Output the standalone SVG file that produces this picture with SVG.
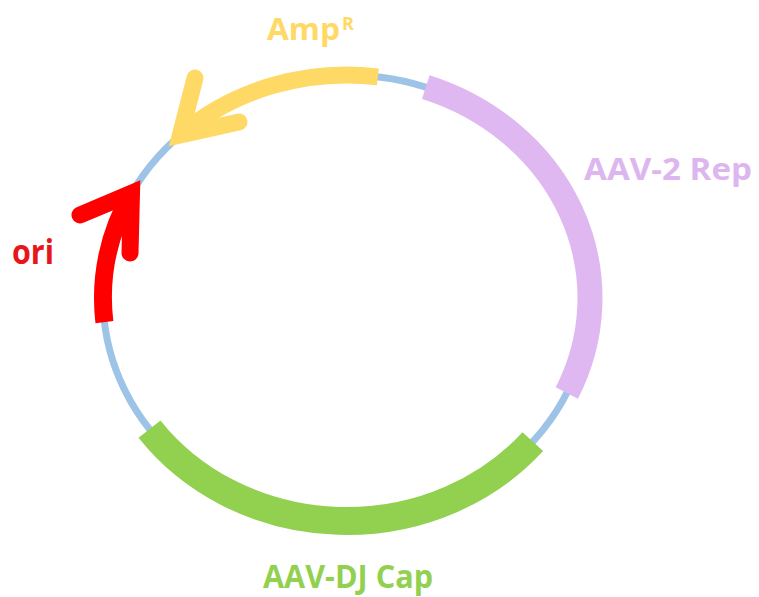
<svg xmlns="http://www.w3.org/2000/svg" width="759" height="597" viewBox="0 0 759 597">
  <style>
    .bb { fill: none; stroke: #9DC3E6; stroke-width: 7; }
    .seg { fill: none; stroke-linecap: butt; }
    .head { fill: none; stroke-linecap: round; stroke-linejoin: miter; stroke-miterlimit: 6; }
    .lbl { font-family: "Open Sans", "Liberation Sans", sans-serif; font-weight: bold; }
  </style>
  <rect width="759" height="597" fill="#FFFFFF"/>
  <g id="backbone">
    <ellipse class="bb" cx="346.5" cy="298" rx="243.5" ry="223"/>
  </g>
  <g id="rep">
    <path class="seg" stroke="#DFB8F1" stroke-width="25" d="M425.8,87.2 A243.5,223 0 0 1 566.8,393.0"/>
    <text class="lbl" x="584" y="180" font-size="31" fill="#DDB6EF" textLength="168" lengthAdjust="spacingAndGlyphs">AAV-2 Rep</text>
  </g>
  <g id="cap">
    <path class="seg" stroke="#92D050" stroke-width="28" d="M532.8,441.6 A243.5,223 0 0 1 149.5,429.1"/>
    <text class="lbl" x="263" y="588" font-size="32" fill="#92D050" textLength="170" lengthAdjust="spacingAndGlyphs">AAV-DJ Cap</text>
  </g>
  <g id="ampR">
    <path class="seg" stroke="#FFD966" stroke-width="17" d="M377.9,76.9 A243.5,223 0 0 0 180.4,134.9"/>
    <path class="head" stroke="#FFD966" stroke-width="17" d="M195,78 L180.4,134.9 L239,122"/>
    <text class="lbl" x="267" y="40" font-size="30" fill="#FFD966" textLength="73" lengthAdjust="spacingAndGlyphs">Amp</text>
    <text class="lbl" x="342" y="30" font-size="18" fill="#FFD966">R</text>
  </g>
  <g id="ori">
    <path class="seg" stroke="#FF0000" stroke-width="18" d="M104.4,322.1 A243.5,223 0 0 1 131.5,193.3"/>
    <path class="head" stroke="#FF0000" stroke-width="17" d="M80,215 L131.5,193.3 L130,253"/>
    <text class="lbl" x="12" y="264" font-size="34" fill="#E8151B" textLength="42" lengthAdjust="spacingAndGlyphs">ori</text>
  </g>
</svg>
